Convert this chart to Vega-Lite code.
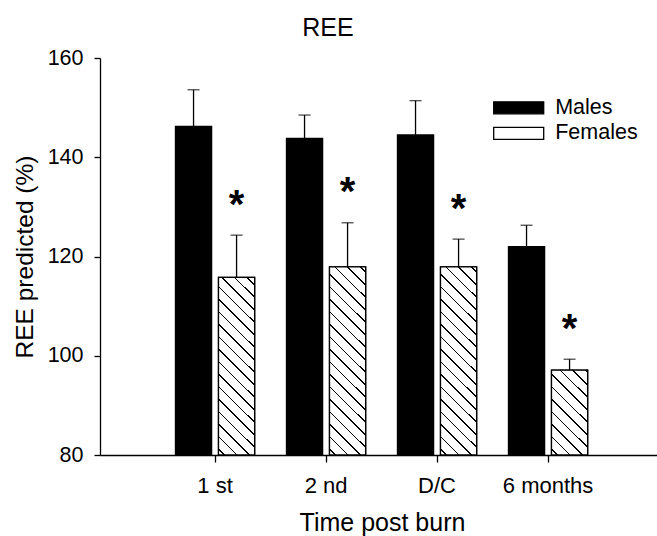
{
  "$schema": "https://vega.github.io/schema/vega-lite/v6.json",
  "width": 557,
  "height": 397,
  "autosize": "none",
  "padding": {"left": 100, "top": 58, "right": 0, "bottom": 81},
  "background": "white",
  "title": {"text": "REE", "fontSize": 25, "font": "Liberation Sans", "fontWeight": "normal", "color": "black", "anchor": "middle", "frame": "group", "dx": -50.5, "offset": 6},
  "data": {"values": [
    {"time": "1 st", "sex": "Males", "value": 146.2, "upper": 153.6, "sig": ""},
    {"time": "1 st", "sex": "Females", "value": 115.8, "upper": 124.3, "sig": "*"},
    {"time": "2 nd", "sex": "Males", "value": 143.8, "upper": 148.5, "sig": ""},
    {"time": "2 nd", "sex": "Females", "value": 117.9, "upper": 126.8, "sig": "*"},
    {"time": "D/C", "sex": "Males", "value": 144.5, "upper": 151.4, "sig": ""},
    {"time": "D/C", "sex": "Females", "value": 117.9, "upper": 123.5, "sig": "*"},
    {"time": "6 months", "sex": "Males", "value": 122.0, "upper": 126.3, "sig": ""},
    {"time": "6 months", "sex": "Females", "value": 97.1, "upper": 99.3, "sig": "*"}
  ]},
  "encoding": {
    "x": {"field": "time", "type": "nominal", "sort": ["1 st", "2 nd", "D/C", "6 months"],
      "scale": {"paddingInner": 0, "paddingOuter": 0.509, "align": 0.527},
      "axis": {"title": "Time post burn", "labelAngle": 0, "labelFontSize": 22, "titleFontSize": 25, "tickSize": 7, "labelPadding": 13, "titleX": 282, "titleY": 75, "titleBaseline": "alphabetic", "bandPosition": 0.5}},
    "xOffset": {"field": "sex", "type": "nominal", "sort": ["Males", "Females"], "scale": {"domain": ["Males", "Females"], "paddingInner": 0.16, "paddingOuter": 0.37}},
    "y": {"field": "value", "type": "quantitative", "title": "REE predicted (%)",
      "scale": {"domain": [80, 160], "nice": false, "zero": false},
      "axis": {"values": [80, 100, 120, 140, 160], "labelFontSize": 21.5, "titleFontSize": 24.5, "tickSize": 6, "labelPadding": 11, "titleX": -68, "titleY": 198.5, "titleBaseline": "alphabetic", "titleAlign": "center"}}
  },
  "layer": [
    {
      "mark": {"type": "bar", "stroke": "black", "strokeWidth": 1.3},
      "encoding": {
        "y2": {"datum": 80},
        "fill": {"field": "sex", "type": "nominal", "scale": {"domain": ["Males", "Females"], "range": ["black", "white"]},
          "legend": {"title": null, "orient": "none", "legendX": 405.2, "legendY": 36.3, "padding": 0, "symbolType": "M-2,-0.48H2V0.48H-2Z", "symbolSize": 625, "symbolStrokeWidth": 1.3, "symbolStrokeColor": "black", "labelFontSize": 21.5, "labelOffset": 23, "rowPadding": 1.5, "labelFont": "Liberation Sans", "labelColor": "black",
            "encoding": {"symbols": {"stroke": {"value": "black"}, "strokeWidth": {"value": 1.3}, "opacity": {"value": 1},
              "fill": {"condition": {"test": "datum.value === 'Females'", "value": {"gradient": "linear", "x1": 0, "y1": 1, "x2": 1.1725, "y2": 0.7186, "stops": [
                  {"offset": 0.0339, "color": "white"}, {"offset": 0.0339, "color": "black"}, {"offset": 0.0629, "color": "black"}, {"offset": 0.0629, "color": "white"},
                  {"offset": 0.2677, "color": "white"}, {"offset": 0.2677, "color": "black"}, {"offset": 0.2968, "color": "black"}, {"offset": 0.2968, "color": "white"},
                  {"offset": 0.5016, "color": "white"}, {"offset": 0.5016, "color": "black"}, {"offset": 0.5306, "color": "black"}, {"offset": 0.5306, "color": "white"},
                  {"offset": 0.7355, "color": "white"}, {"offset": 0.7355, "color": "black"}, {"offset": 0.7645, "color": "black"}, {"offset": 0.7645, "color": "white"},
                  {"offset": 0.9694, "color": "white"}, {"offset": 0.9694, "color": "black"}, {"offset": 0.9984, "color": "black"}, {"offset": 0.9984, "color": "white"}
                ]}},
                "value": "black"}}}}}
      }
    },
    {
      "transform": [{"filter": "datum.sex === 'Females' && datum.time === '1 st'"}],
      "mark": {"type": "bar", "stroke": "black", "strokeWidth": 1.3, "fill": {"gradient": "linear", "x1": 0, "y1": 1, "x2": 0.2341, "y2": -0.1552, "stops": [
        {"offset": 0.0239, "color": "white"}, {"offset": 0.0239, "color": "black"}, {"offset": 0.0323, "color": "black"}, {"offset": 0.0323, "color": "white"},
        {"offset": 0.0824, "color": "white"}, {"offset": 0.0824, "color": "black"}, {"offset": 0.0908, "color": "black"}, {"offset": 0.0908, "color": "white"},
        {"offset": 0.1409, "color": "white"}, {"offset": 0.1409, "color": "black"}, {"offset": 0.1493, "color": "black"}, {"offset": 0.1493, "color": "white"},
        {"offset": 0.1994, "color": "white"}, {"offset": 0.1994, "color": "black"}, {"offset": 0.2078, "color": "black"}, {"offset": 0.2078, "color": "white"},
        {"offset": 0.2579, "color": "white"}, {"offset": 0.2579, "color": "black"}, {"offset": 0.2663, "color": "black"}, {"offset": 0.2663, "color": "white"},
        {"offset": 0.3164, "color": "white"}, {"offset": 0.3164, "color": "black"}, {"offset": 0.3248, "color": "black"}, {"offset": 0.3248, "color": "white"},
        {"offset": 0.3749, "color": "white"}, {"offset": 0.3749, "color": "black"}, {"offset": 0.3833, "color": "black"}, {"offset": 0.3833, "color": "white"},
        {"offset": 0.4334, "color": "white"}, {"offset": 0.4334, "color": "black"}, {"offset": 0.4418, "color": "black"}, {"offset": 0.4418, "color": "white"},
        {"offset": 0.4919, "color": "white"}, {"offset": 0.4919, "color": "black"}, {"offset": 0.5003, "color": "black"}, {"offset": 0.5003, "color": "white"},
        {"offset": 0.5504, "color": "white"}, {"offset": 0.5504, "color": "black"}, {"offset": 0.5588, "color": "black"}, {"offset": 0.5588, "color": "white"},
        {"offset": 0.6089, "color": "white"}, {"offset": 0.6089, "color": "black"}, {"offset": 0.6173, "color": "black"}, {"offset": 0.6173, "color": "white"},
        {"offset": 0.6674, "color": "white"}, {"offset": 0.6674, "color": "black"}, {"offset": 0.6758, "color": "black"}, {"offset": 0.6758, "color": "white"},
        {"offset": 0.7259, "color": "white"}, {"offset": 0.7259, "color": "black"}, {"offset": 0.7343, "color": "black"}, {"offset": 0.7343, "color": "white"},
        {"offset": 0.7844, "color": "white"}, {"offset": 0.7844, "color": "black"}, {"offset": 0.7928, "color": "black"}, {"offset": 0.7928, "color": "white"},
        {"offset": 0.8429, "color": "white"}, {"offset": 0.8429, "color": "black"}, {"offset": 0.8513, "color": "black"}, {"offset": 0.8513, "color": "white"},
        {"offset": 0.9014, "color": "white"}, {"offset": 0.9014, "color": "black"}, {"offset": 0.9099, "color": "black"}, {"offset": 0.9099, "color": "white"},
        {"offset": 0.9599, "color": "white"}, {"offset": 0.9599, "color": "black"}, {"offset": 0.9684, "color": "black"}, {"offset": 0.9684, "color": "white"}
      ]}},
      "encoding": {"y2": {"datum": 80}}
    },
    {
      "transform": [{"filter": "datum.sex === 'Females' && (datum.time === '2 nd' || datum.time === 'D/C')"}],
      "mark": {"type": "bar", "stroke": "black", "strokeWidth": 1.3, "fill": {"gradient": "linear", "x1": 0, "y1": 1, "x2": 0.2200, "y2": -0.1493, "stops": [
        {"offset": 0.0228, "color": "white"}, {"offset": 0.0228, "color": "black"}, {"offset": 0.0308, "color": "black"}, {"offset": 0.0308, "color": "white"},
        {"offset": 0.0785, "color": "white"}, {"offset": 0.0785, "color": "black"}, {"offset": 0.0866, "color": "black"}, {"offset": 0.0866, "color": "white"},
        {"offset": 0.1343, "color": "white"}, {"offset": 0.1343, "color": "black"}, {"offset": 0.1424, "color": "black"}, {"offset": 0.1424, "color": "white"},
        {"offset": 0.1901, "color": "white"}, {"offset": 0.1901, "color": "black"}, {"offset": 0.1981, "color": "black"}, {"offset": 0.1981, "color": "white"},
        {"offset": 0.2459, "color": "white"}, {"offset": 0.2459, "color": "black"}, {"offset": 0.2539, "color": "black"}, {"offset": 0.2539, "color": "white"},
        {"offset": 0.3017, "color": "white"}, {"offset": 0.3017, "color": "black"}, {"offset": 0.3097, "color": "black"}, {"offset": 0.3097, "color": "white"},
        {"offset": 0.3575, "color": "white"}, {"offset": 0.3575, "color": "black"}, {"offset": 0.3655, "color": "black"}, {"offset": 0.3655, "color": "white"},
        {"offset": 0.4132, "color": "white"}, {"offset": 0.4132, "color": "black"}, {"offset": 0.4213, "color": "black"}, {"offset": 0.4213, "color": "white"},
        {"offset": 0.4690, "color": "white"}, {"offset": 0.4690, "color": "black"}, {"offset": 0.4771, "color": "black"}, {"offset": 0.4771, "color": "white"},
        {"offset": 0.5248, "color": "white"}, {"offset": 0.5248, "color": "black"}, {"offset": 0.5328, "color": "black"}, {"offset": 0.5328, "color": "white"},
        {"offset": 0.5806, "color": "white"}, {"offset": 0.5806, "color": "black"}, {"offset": 0.5886, "color": "black"}, {"offset": 0.5886, "color": "white"},
        {"offset": 0.6364, "color": "white"}, {"offset": 0.6364, "color": "black"}, {"offset": 0.6444, "color": "black"}, {"offset": 0.6444, "color": "white"},
        {"offset": 0.6922, "color": "white"}, {"offset": 0.6922, "color": "black"}, {"offset": 0.7002, "color": "black"}, {"offset": 0.7002, "color": "white"},
        {"offset": 0.7479, "color": "white"}, {"offset": 0.7479, "color": "black"}, {"offset": 0.7560, "color": "black"}, {"offset": 0.7560, "color": "white"},
        {"offset": 0.8037, "color": "white"}, {"offset": 0.8037, "color": "black"}, {"offset": 0.8118, "color": "black"}, {"offset": 0.8118, "color": "white"},
        {"offset": 0.8595, "color": "white"}, {"offset": 0.8595, "color": "black"}, {"offset": 0.8675, "color": "black"}, {"offset": 0.8675, "color": "white"},
        {"offset": 0.9153, "color": "white"}, {"offset": 0.9153, "color": "black"}, {"offset": 0.9233, "color": "black"}, {"offset": 0.9233, "color": "white"},
        {"offset": 0.9711, "color": "white"}, {"offset": 0.9711, "color": "black"}, {"offset": 0.9791, "color": "black"}, {"offset": 0.9791, "color": "white"}
      ]}},
      "encoding": {"y2": {"datum": 80}}
    },
    {
      "transform": [{"filter": "datum.sex === 'Females' && datum.time === '6 months'"}],
      "mark": {"type": "bar", "stroke": "black", "strokeWidth": 1.3, "fill": {"gradient": "linear", "x1": 0, "y1": 1, "x2": 0.5121, "y2": -0.2070, "stops": [
        {"offset": 0.0422, "color": "white"}, {"offset": 0.0422, "color": "black"}, {"offset": 0.0571, "color": "black"}, {"offset": 0.0571, "color": "white"},
        {"offset": 0.1456, "color": "white"}, {"offset": 0.1456, "color": "black"}, {"offset": 0.1605, "color": "black"}, {"offset": 0.1605, "color": "white"},
        {"offset": 0.2490, "color": "white"}, {"offset": 0.2490, "color": "black"}, {"offset": 0.2639, "color": "black"}, {"offset": 0.2639, "color": "white"},
        {"offset": 0.3525, "color": "white"}, {"offset": 0.3525, "color": "black"}, {"offset": 0.3674, "color": "black"}, {"offset": 0.3674, "color": "white"},
        {"offset": 0.4559, "color": "white"}, {"offset": 0.4559, "color": "black"}, {"offset": 0.4708, "color": "black"}, {"offset": 0.4708, "color": "white"},
        {"offset": 0.5593, "color": "white"}, {"offset": 0.5593, "color": "black"}, {"offset": 0.5742, "color": "black"}, {"offset": 0.5742, "color": "white"},
        {"offset": 0.6627, "color": "white"}, {"offset": 0.6627, "color": "black"}, {"offset": 0.6776, "color": "black"}, {"offset": 0.6776, "color": "white"},
        {"offset": 0.7662, "color": "white"}, {"offset": 0.7662, "color": "black"}, {"offset": 0.7811, "color": "black"}, {"offset": 0.7811, "color": "white"},
        {"offset": 0.8696, "color": "white"}, {"offset": 0.8696, "color": "black"}, {"offset": 0.8845, "color": "black"}, {"offset": 0.8845, "color": "white"},
        {"offset": 0.9730, "color": "white"}, {"offset": 0.9730, "color": "black"}, {"offset": 0.9879, "color": "black"}, {"offset": 0.9879, "color": "white"}
      ]}},
      "encoding": {"y2": {"datum": 80}}
    },
    {
      "mark": {"type": "rule", "color": "black", "strokeWidth": 1.3},
      "encoding": {"y": {"field": "value", "type": "quantitative", "title": "REE predicted (%)"}, "y2": {"field": "upper"}}
    },
    {
      "mark": {"type": "tick", "color": "black", "thickness": 1.3, "size": 12, "orient": "horizontal"},
      "encoding": {"y": {"field": "upper", "type": "quantitative", "title": "REE predicted (%)"}}
    },
    {
      "transform": [{"filter": "datum.sig !== ''"}],
      "mark": {"type": "text", "font": "Liberation Sans", "fontWeight": "bold", "fontSize": 40, "baseline": "alphabetic", "dy": -17.5, "color": "black"},
      "encoding": {"y": {"field": "upper", "type": "quantitative", "title": "REE predicted (%)"}, "text": {"field": "sig"}}
    }
  ],
  "config": {
    "view": {"stroke": null},
    "font": "Liberation Sans",
    "axis": {"domainColor": "black", "tickColor": "black", "labelColor": "black", "titleColor": "black", "domainWidth": 1.3, "tickWidth": 1.3, "grid": false, "titleFontWeight": "normal", "labelFont": "Liberation Sans", "titleFont": "Liberation Sans"}
  }
}
